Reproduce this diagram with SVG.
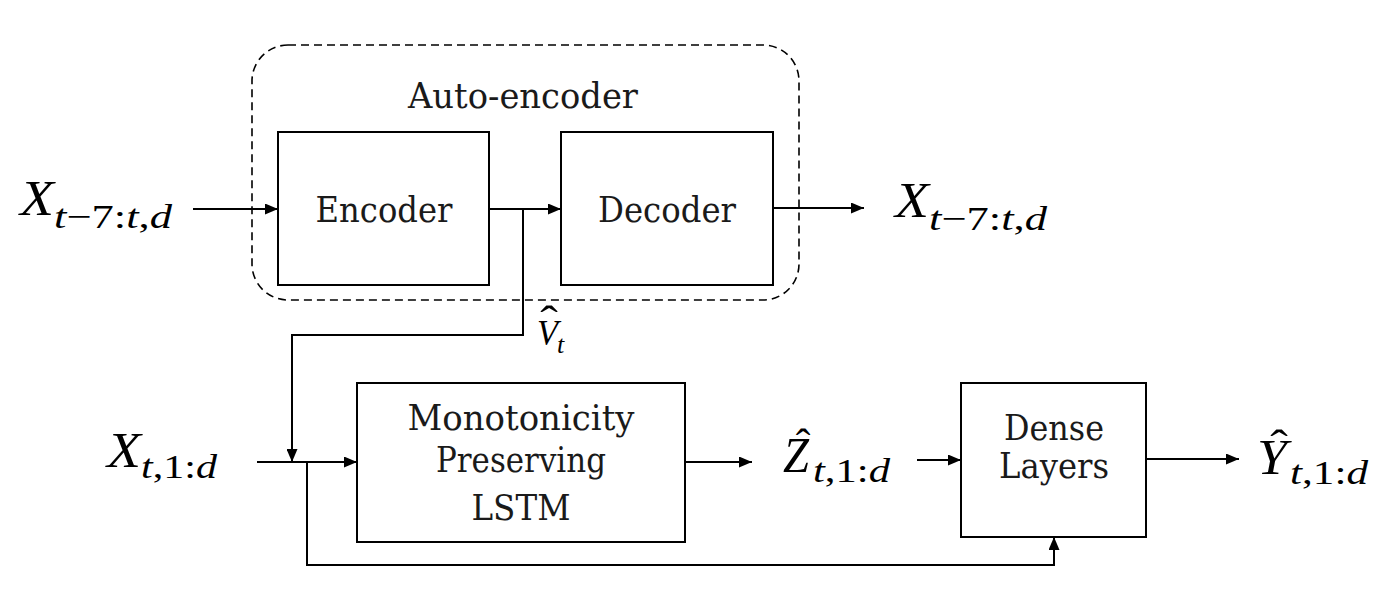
<svg xmlns="http://www.w3.org/2000/svg" width="1398" height="594" viewBox="0 0 1398 594">
<defs>
<marker id="ah" markerUnits="userSpaceOnUse" markerWidth="13" markerHeight="11" refX="13" refY="5.5" orient="auto">
<path d="M0,0 L13,5.5 L0,11 z" fill="#000"/>
</marker>
<style>
.box{fill:#fff;stroke:#000;stroke-width:2}
.lbl{font-family:"DejaVu Serif","Liberation Serif",serif;font-size:36px;fill:#1a1a1a;text-anchor:middle}
.m{font-family:"Liberation Serif","DejaVu Serif",serif;font-style:italic;fill:#000}
.big{font-size:50px}
.sub{font-size:34px}
.up{font-style:normal}
.hat{font-family:"Liberation Serif",serif;font-style:normal;font-size:44px;fill:#000;text-anchor:middle}
.c{fill:none;stroke:#000;stroke-width:2}
</style>
</defs>
<rect width="1398" height="594" fill="#fff"/>

<g id="autoencoder">
<rect x="252" y="45" width="547" height="255" rx="36" fill="none" stroke="#000" stroke-width="1.6" stroke-dasharray="8 5"/>
<text class="lbl" x="523" y="108" textLength="230" lengthAdjust="spacingAndGlyphs">Auto-encoder</text>
</g>

<g id="encoder">
<rect class="box" x="278" y="132" width="211" height="153"/>
<text class="lbl" x="384" y="222" textLength="137" lengthAdjust="spacingAndGlyphs">Encoder</text>
</g>

<g id="decoder">
<rect class="box" x="561" y="132" width="212" height="153"/>
<text class="lbl" x="667" y="222" textLength="138" lengthAdjust="spacingAndGlyphs">Decoder</text>
</g>

<g id="lstm">
<rect class="box" x="357" y="383" width="328" height="159"/>
<text class="lbl" x="521" y="430" textLength="227" lengthAdjust="spacingAndGlyphs">Monotonicity</text>
<text class="lbl" x="521" y="472" textLength="170" lengthAdjust="spacingAndGlyphs">Preserving</text>
<text class="lbl" x="521" y="520" textLength="99" lengthAdjust="spacingAndGlyphs">LSTM</text>
</g>

<g id="dense">
<rect class="box" x="961" y="383" width="185" height="154"/>
<text class="lbl" x="1054" y="440" textLength="100" lengthAdjust="spacingAndGlyphs">Dense</text>
<text class="lbl" x="1054" y="478" textLength="110" lengthAdjust="spacingAndGlyphs">Layers</text>
</g>

<g id="input-x-window">
<text class="m big" x="20" y="215" textLength="34" lengthAdjust="spacingAndGlyphs">X</text>
<text class="m sub" x="54" y="228" textLength="118" lengthAdjust="spacingAndGlyphs">t<tspan class="up">−7:</tspan>t<tspan class="up">,</tspan>d</text>
</g>

<g id="output-x-window">
<text class="m big" x="895" y="217" textLength="34" lengthAdjust="spacingAndGlyphs">X</text>
<text class="m sub" x="929" y="230" textLength="118" lengthAdjust="spacingAndGlyphs">t<tspan class="up">−7:</tspan>t<tspan class="up">,</tspan>d</text>
</g>

<g id="v-hat">
<text class="m" font-size="36" x="537" y="345" textLength="21" lengthAdjust="spacingAndGlyphs">V</text>
<text class="hat" x="549" y="336" transform="translate(549 0) scale(1.2 1) translate(-549 0)">ˆ</text>
<text class="m" font-size="26" x="557" y="353">t</text>
</g>

<g id="input-x-t">
<text class="m big" x="107" y="467" textLength="34" lengthAdjust="spacingAndGlyphs">X</text>
<text class="m sub" x="141" y="478" textLength="76" lengthAdjust="spacingAndGlyphs">t<tspan class="up">,1:</tspan>d</text>
</g>

<g id="z-hat">
<text class="m big" x="783" y="472" textLength="26" lengthAdjust="spacingAndGlyphs">Z</text>
<text class="hat" x="803" y="459">ˆ</text>
<text class="m sub" x="813" y="482" textLength="77" lengthAdjust="spacingAndGlyphs">t<tspan class="up">,1:</tspan>d</text>
</g>

<g id="y-hat">
<text class="m big" x="1257" y="474" textLength="30" lengthAdjust="spacingAndGlyphs">Y</text>
<text class="hat" x="1279" y="460" transform="translate(1279 0) scale(1.2 1) translate(-1279 0)">ˆ</text>
<text class="m sub" x="1290" y="484" textLength="78" lengthAdjust="spacingAndGlyphs">t<tspan class="up">,1:</tspan>d</text>
</g>

<g id="connectors">
<path class="c" d="M193,209 H278" marker-end="url(#ah)"/>
<path class="c" d="M489,209 H561" marker-end="url(#ah)"/>
<path class="c" d="M523,209 V335 H292 V462" marker-end="url(#ah)"/>
<path class="c" d="M773,208 H864" marker-end="url(#ah)"/>
<path class="c" d="M257,462 H357" marker-end="url(#ah)"/>
<path class="c" d="M307,462 V565 H1054 V537" marker-end="url(#ah)"/>
<path class="c" d="M685,462 H752" marker-end="url(#ah)"/>
<path class="c" d="M917,460 H961" marker-end="url(#ah)"/>
<path class="c" d="M1146,459 H1239" marker-end="url(#ah)"/>
</g>
</svg>
